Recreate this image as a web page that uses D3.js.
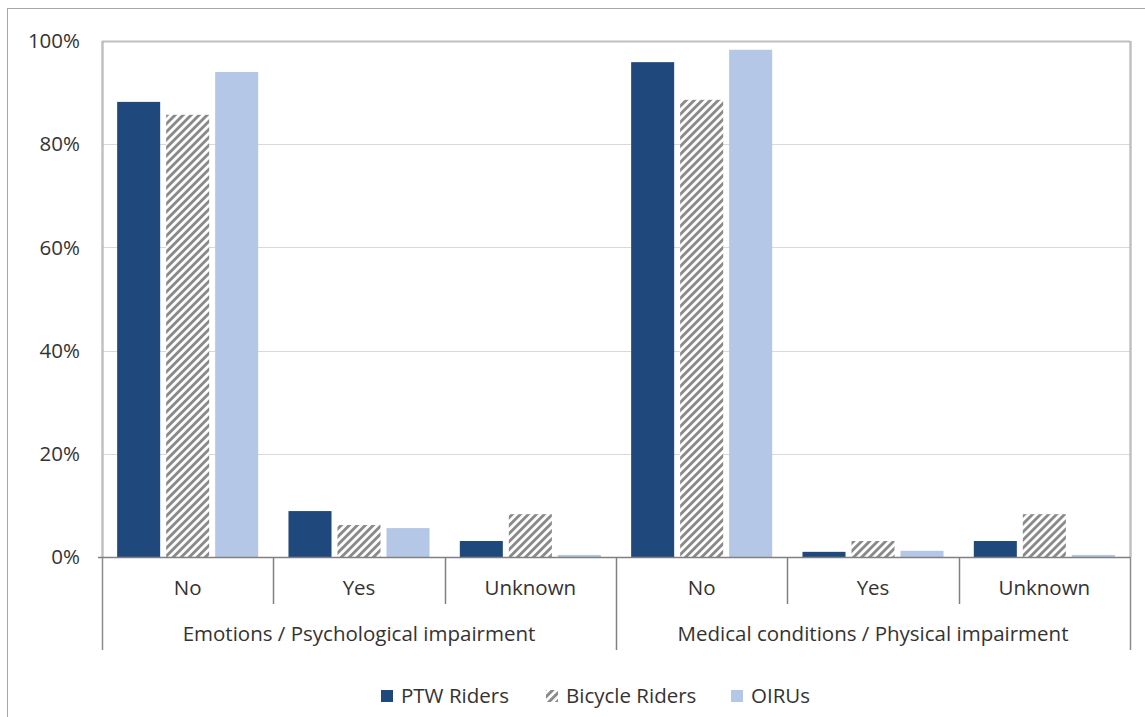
<!DOCTYPE html>
<html><head><meta charset="utf-8">
<script src="https://cdn.jsdelivr.net/npm/d3@7"></script>
<style>body{margin:0;background:#fff}svg{display:block}text{font-family:"Open Sans","Noto Sans",sans-serif;fill:#333}</style>
</head><body><svg id="c" width="1145" height="717"></svg>
<script>
const groups = ["Emotions / Psychological impairment", "Medical conditions / Physical impairment"];
const subcats = ["No", "Yes", "Unknown"];
const series = ["PTW Riders", "Bicycle Riders", "OIRUs"];
const ptw     = [88.2, 8.9, 3.1, 95.9, 1.0, 3.1];
const bicycle = [85.7, 6.2, 8.3, 88.6, 3.1, 8.3];
const oirus   = [94.0, 5.6, 0.4, 98.3, 1.2, 0.4];
const yTicks = [0, 20, 40, 60, 80, 100];

const svg = d3.select("#c");
const L = 102, R = 1130, T = 41, B = 557;
const FS = 20.5;
const cats = d3.range(6);
const values = [ptw, bicycle, oirus];

const defs = svg.append("defs");
const pat = defs.append("pattern").attr("id","hatch").attr("patternUnits","userSpaceOnUse")
  .attr("width",5.66).attr("height",5.66).attr("patternTransform","rotate(45)");
pat.append("rect").attr("width",5.66).attr("height",5.66).attr("fill","#fff");
pat.append("rect").attr("width",2.9).attr("height",5.66).attr("fill","#8a8a8a");

const colors = ["#1f497d", "url(#hatch)", "#b4c7e7"];

// outer border
svg.append("rect").attr("x",7.5).attr("y",8.5).attr("width",1150).attr("height",720)
  .attr("fill","none").attr("stroke","#a6a6a6").attr("stroke-width",1);

const x0 = d3.scaleBand().domain(cats).range([L, R]).paddingInner(0).paddingOuter(0);
const x1 = d3.scaleBand().domain(d3.range(3)).range([0, x0.bandwidth()]).paddingInner(0.122).paddingOuter(0.309);
const y = d3.scaleLinear().domain([0, 100]).range([B, T]);

// gridlines
svg.append("g").selectAll("line").data(yTicks.filter(d=>d>0)).join("line")
  .attr("x1",L).attr("x2",R).attr("y1",d=>Math.round(y(d))+0.5).attr("y2",d=>Math.round(y(d))+0.5)
  .attr("stroke", d=>d===100?"#bfbfbf":"#d9d9d9").attr("stroke-width", d=>d===100?2:1);

// y labels
svg.append("g").selectAll("text").data(yTicks).join("text")
  .attr("x",80).attr("y",d=>y(d)).attr("dy","0.35em").attr("text-anchor","end")
  .attr("font-size",FS).text(d=>d+"%");

// bars
const bg = svg.append("g");
series.forEach((s,si)=>{
  bg.selectAll(null).data(cats).join("rect")
    .attr("x",c=>x0(c)+x1(si)).attr("width",x1.bandwidth())
    .attr("y",c=>y(values[si][c])).attr("height",c=>B-y(values[si][c]))
    .attr("fill",colors[si]);
});

// plot verticals
[L, R].forEach(xx=>{
  svg.append("line").attr("x1",xx+0.5).attr("x2",xx+0.5).attr("y1",T).attr("y2",650)
    .attr("stroke", "#8c8c8c").attr("stroke-width",1.5);
});
svg.append("line").attr("x1",L+0.5).attr("x2",L+0.5).attr("y1",T).attr("y2",B).attr("stroke","#bfbfbf").attr("stroke-width",2);
svg.append("line").attr("x1",R+0.5).attr("x2",R+0.5).attr("y1",T).attr("y2",B).attr("stroke","#bfbfbf").attr("stroke-width",2);

// x axis line
svg.append("line").attr("x1",L-4).attr("x2",R).attr("y1",B+0.5).attr("y2",B+0.5).attr("stroke","#808080").attr("stroke-width",1.5);

// separators
cats.slice(1).forEach(c=>{
  const xx = Math.round(x0(c))+0.5;
  const full = c===3;
  svg.append("line").attr("x1",xx).attr("x2",xx).attr("y1",B).attr("y2",full?650:604)
    .attr("stroke","#808080").attr("stroke-width",1.5);
});

// category labels
svg.append("g").selectAll("text").data(cats).join("text")
  .attr("x",c=>x0(c)+x0.bandwidth()/2).attr("y",588).attr("dy","0.35em").attr("text-anchor","middle")
  .attr("font-size",FS).text(c=>subcats[c%3]);
svg.append("g").selectAll("text").data(groups).join("text")
  .attr("x",(d,i)=>x0(i*3)+x0.bandwidth()*1.5).attr("y",634).attr("dy","0.35em").attr("text-anchor","middle")
  .attr("font-size",FS).text(d=>d);

// legend
const legX = [381, 546, 731];
const lg = svg.append("g");
series.forEach((s,i)=>{
  lg.append("rect").attr("x",legX[i]).attr("y",690).attr("width",12).attr("height",12).attr("fill",colors[i]);
  lg.append("text").attr("x",legX[i]+20).attr("y",696).attr("dy","0.35em").attr("font-size",FS).text(s);
});
</script></body></html>
